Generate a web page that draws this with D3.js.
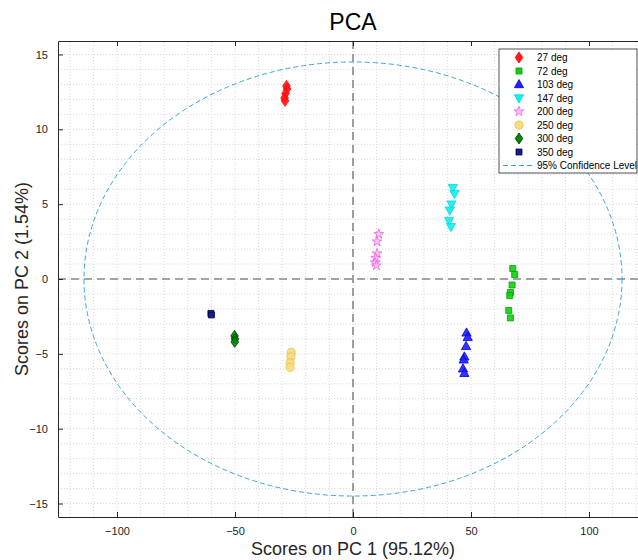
<!DOCTYPE html>
<html>
<head>
<meta charset="utf-8">
<script src="https://cdn.jsdelivr.net/npm/d3@7"></script>
<style>
  body { margin: 0; background: #fff; }
  text { font-family: "Liberation Sans", Arial, sans-serif; }
</style>
</head>
<body>
<div id="pca"></div>
<script>
var chart = {
  width: 638,
  height: 560,
  top: 41,
  left: 58,
  plotW: 590,
  plotH: 476,
}

/* Data */
var groups = ["27 deg", "72 deg", "103 deg", "147 deg", "200 deg", "250 deg", "300 deg", "350 deg"];
var deg27 = [[-28.2, 12.9], [-27.9, 12.7], [-28.6, 12.4], [-29.0, 12.1], [-28.8, 11.9]];
var deg72 = [[67.7, 0.7], [68.5, 0.3], [67.4, -0.4], [66.7, -0.9], [66.4, -1.1], [66.0, -2.1], [66.7, -2.6]];
var deg103 = [[48.1, -3.6], [48.6, -3.9], [47.9, -4.5], [47.2, -5.2], [46.9, -5.4], [46.6, -6.0], [47.2, -6.3]];
var deg147 = [[42.3, 6.1], [43.0, 5.7], [41.7, 5.0], [41.0, 4.6], [40.7, 3.9], [41.5, 3.5]];
var deg200 = [[10.9, 3.0], [10.2, 2.5], [10.2, 1.7], [9.6, 1.4], [9.4, 1.1], [9.9, 0.9]];
var deg250 = [[-26.2, -4.9], [-26.3, -5.2], [-26.6, -5.6], [-26.7, -5.9]];
var deg300 = [[-50.2, -3.8], [-50.0, -4.0], [-50.1, -4.2]];
var deg350 = [[-60.2, -2.3], [-60.0, -2.4]];
var groupData = [deg27, deg72, deg103, deg147, deg200, deg250, deg300, deg350];

var xTicks = [-100, -50, 0, 50, 100];
var yTicks = [-15, -10, -5, 0, 5, 10, 15];
var xDomain = [-125, 125];
var yDomain = [-15.9, 15.9];
var ellipseRadii = [114, 14.5];   /* 95% confidence limits */

var styles = [
  { shape: "diamond", fill: "#ff1a1a", stroke: "#ff0000" },
  { shape: "square", fill: "#10d010", stroke: "#00a000" },
  { shape: "up", fill: "#1f1fff", stroke: "#0000dd" },
  { shape: "down", fill: "#10f0f0", stroke: "#00d8e0" },
  { shape: "star", fill: "#ffc4f4", stroke: "#f060dc" },
  { shape: "circle", fill: "#f7dc80", stroke: "#e8bf50" },
  { shape: "diamond", fill: "#008a00", stroke: "#003300" },
  { shape: "square", fill: "#1a1a8c", stroke: "#000040" },
];

function markerPath(shape) {
  if (shape === "diamond") return "M0,-5.5L3.8,0L0,5.5L-3.8,0Z";
  if (shape === "square") return "M-3,-3H3V3H-3Z";
  if (shape === "up") return "M0,-5L4.6,3.2L-4.6,3.2Z";
  if (shape === "down") return "M0,5L4.6,-3.2L-4.6,-3.2Z";
  if (shape === "star") return d3.symbol().type(d3.symbolStar).size(30)();
  return d3.symbol().type(d3.symbolCircle).size(52)();
}

var svg = d3.select("#pca")
  .append("svg")
  .attr("width", chart.width)
  .attr("height", chart.height);

var x = d3.scaleLinear().domain(xDomain).range([chart.left, chart.left + chart.plotW]);
var y = d3.scaleLinear().domain(yDomain).range([chart.top + chart.plotH, chart.top]);

/* Grid */
var grid = svg.append("g");
var xMinor = d3.range(-120, 121, 10);
var yMinor = d3.range(-15, 16, 1);
grid.selectAll(".vx")
  .data(xMinor)
  .enter()
  .append("line")
  .attr("x1", (d) => x(d)).attr("x2", (d) => x(d))
  .attr("y1", y(yDomain[0])).attr("y2", y(yDomain[1]))
  .style("stroke", "#d8d8d8")
  .style("stroke-dasharray", "1,2");
grid.selectAll(".hy")
  .data(yMinor)
  .enter()
  .append("line")
  .attr("y1", (d) => y(d)).attr("y2", (d) => y(d))
  .attr("x1", x(xDomain[0])).attr("x2", x(xDomain[1]))
  .style("stroke", "#d8d8d8")
  .style("stroke-dasharray", "1,2");

/* Zero lines */
svg.append("line")
  .attr("x1", x(0)).attr("x2", x(0))
  .attr("y1", y(yDomain[0])).attr("y2", y(yDomain[1]))
  .style("stroke", "#888").style("stroke-width", 1.6).style("stroke-dasharray", "8,5");
svg.append("line")
  .attr("y1", y(0)).attr("y2", y(0))
  .attr("x1", x(xDomain[0])).attr("x2", x(xDomain[1]))
  .style("stroke", "#888").style("stroke-width", 1.6).style("stroke-dasharray", "8,5");

/* Confidence ellipse */
svg.append("ellipse")
  .attr("cx", x(0)).attr("cy", y(0))
  .attr("rx", x(ellipseRadii[0]) - x(0))
  .attr("ry", y(0) - y(ellipseRadii[1]))
  .style("fill", "none")
  .style("stroke", "#3aa6d6")
  .style("stroke-width", 1)
  .style("stroke-dasharray", "5,3");

/* Axes */
var xAxis = svg.append("g")
  .attr("transform", "translate(0," + y(yDomain[0]) + ")")
  .call(d3.axisBottom(x).tickValues(xTicks).tickSizeInner(-5).tickSizeOuter(0).tickPadding(10));
var xAxisTop = svg.append("g")
  .attr("transform", "translate(0," + y(yDomain[1]) + ")")
  .call(d3.axisTop(x).tickValues(xTicks).tickSizeInner(-5).tickSizeOuter(0).tickFormat(""));
var yAxis = svg.append("g")
  .attr("transform", "translate(" + x(xDomain[0]) + ",0)")
  .call(d3.axisLeft(y).tickValues(yTicks).tickSizeInner(-5).tickSizeOuter(0).tickPadding(10));
[xAxis, xAxisTop, yAxis].forEach((a) => {
  a.select(".domain").style("stroke", "#262626");
  a.selectAll(".tick line").style("stroke", "#262626");
  a.selectAll(".tick text").style("fill", "#262626").style("font-size", "11px");
});
svg.append("line")
  .attr("x1", x(xDomain[1])).attr("x2", x(xDomain[1]))
  .attr("y1", y(yDomain[0])).attr("y2", y(yDomain[1]))
  .style("stroke", "#262626");

/* Points */
groupData.forEach((pts, i) => {
  svg.append("g")
    .selectAll("path")
    .data(pts)
    .enter()
    .append("path")
    .attr("d", markerPath(styles[i].shape))
    .attr("transform", (d) => "translate(" + x(d[0]) + "," + y(d[1]) + ")")
    .style("fill", styles[i].fill)
    .style("stroke", styles[i].stroke)
    .style("stroke-width", 0.8)
    .style("fill-opacity", 0.9);
});

/* Titles */
svg.append("text")
  .attr("x", x(0)).attr("y", 30)
  .style("text-anchor", "middle")
  .style("font-size", "23px")
  .style("fill", "#000")
  .text("PCA");
svg.append("text")
  .attr("x", x(0)).attr("y", 555)
  .style("text-anchor", "middle")
  .style("font-size", "18px")
  .style("fill", "#262626")
  .text("Scores on PC 1 (95.12%)");
svg.append("text")
  .attr("transform", "translate(28," + y(0) + ") rotate(-90)")
  .style("text-anchor", "middle")
  .style("font-size", "18px")
  .style("fill", "#262626")
  .text("Scores on PC 2 (1.54%)");

/* Legend */
var legend = svg.append("g").attr("transform", "translate(499,49)");
legend.append("rect")
  .attr("width", 138).attr("height", 124)
  .style("fill", "#fff")
  .style("stroke", "#262626")
  .style("stroke-width", 0.8);
groups.forEach((g, i) => {
  let row = legend.append("g").attr("transform", "translate(0," + (8.5 + i * 13.5) + ")");
  row.append("path")
    .attr("d", markerPath(styles[i].shape))
    .attr("transform", "translate(20,0)")
    .style("fill", styles[i].fill)
    .style("stroke", styles[i].stroke)
    .style("stroke-width", 0.8);
  row.append("text")
    .attr("x", 38).attr("y", 3.5)
    .style("font-size", "10px")
    .style("fill", "#000")
    .text(g);
});
let ciRow = legend.append("g").attr("transform", "translate(0," + (8.5 + 8 * 13.5) + ")");
ciRow.append("line")
  .attr("x1", 4).attr("x2", 36)
  .style("stroke", "#3aa6d6")
  .style("stroke-width", 1.2)
  .style("stroke-dasharray", "5,3");
ciRow.append("text")
  .attr("x", 38).attr("y", 3.5)
  .style("font-size", "10px")
  .style("fill", "#000")
  .text("95% Confidence Level");
</script>
</body>
</html>
